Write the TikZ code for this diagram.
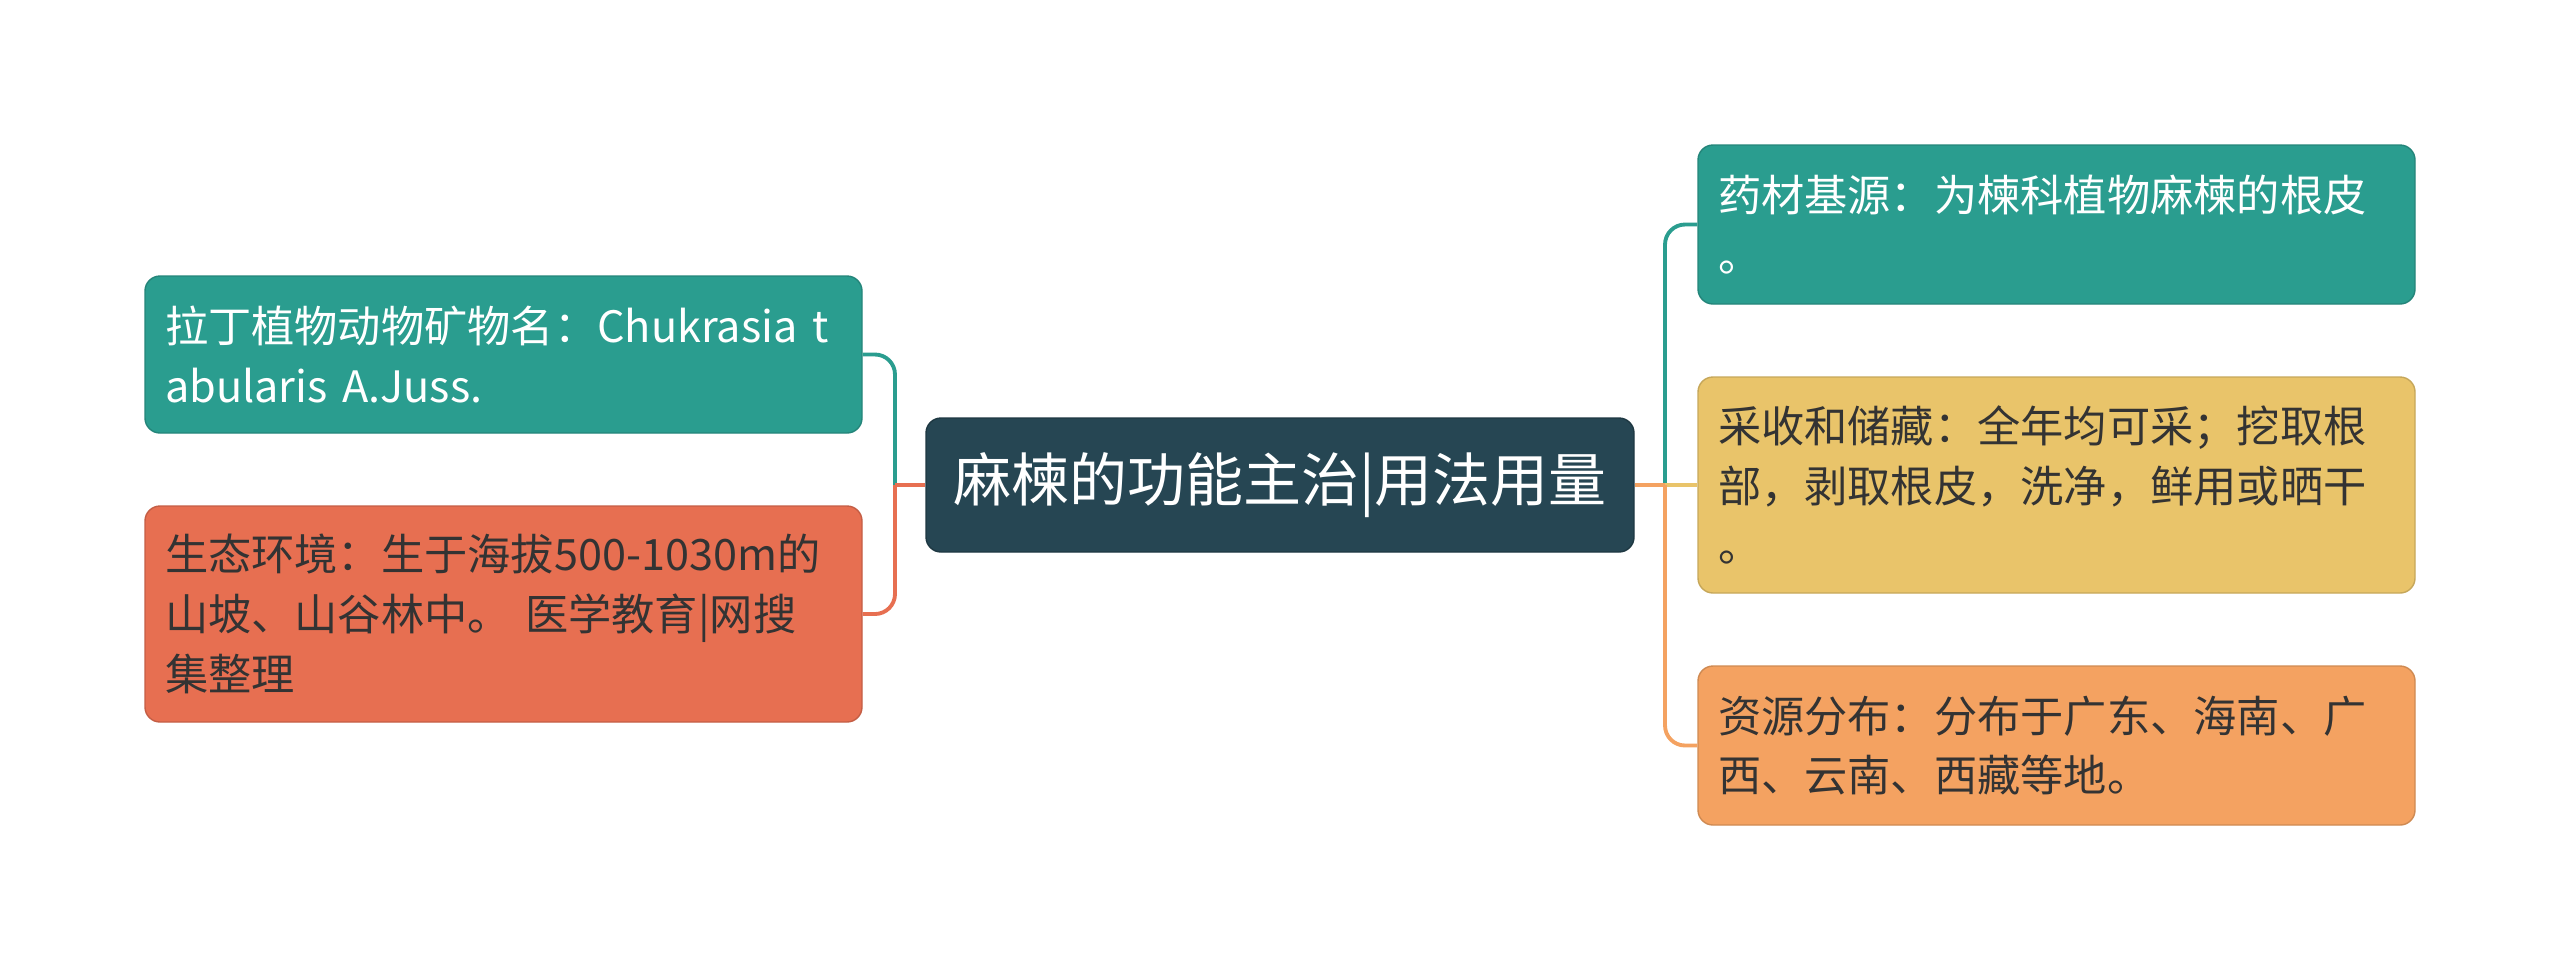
\documentclass[tikz,border=0pt]{standalone}
\usepackage{fontspec}
\newfontfamily\cjk{Noto Sans CJK SC}
\definecolor{mteal}{HTML}{2A9D8F}
\definecolor{mcoral}{HTML}{E76F51}
\definecolor{myellow}{HTML}{E9C46A}
\definecolor{morange}{HTML}{F4A261}
\definecolor{mdark}{HTML}{264653}
\definecolor{mtext}{HTML}{333333}
\begin{document}
\begin{tikzpicture}[
  leaf/.style={rounded corners=0.15cm, text width=6.77cm, inner xsep=0.2cm, inner ysep=0pt,
    align=left, minimum height=#1, font=\cjk\fontsize{12.3}{17}\selectfont},
  link/.style={line width=1.1pt}]
\useasboundingbox (0,0) rectangle (25.6,-9.69);
\node[fill=mdark, draw=mdark!80!black, line width=0.4pt, text=white, rounded corners=0.15cm,
  minimum width=7.08cm, minimum height=1.34cm, font=\cjk\fontsize{16.5}{20}\selectfont]
  (root) at (12.80,-4.85) {麻楝的功能主治|用法用量};
% left side
\node[leaf=1.57cm, fill=mteal, draw=mteal!85!black, line width=0.4pt, text=white] (l1) at (5.035,-3.545)
  {拉丁植物动物矿物名：Chukrasia t\\abularis A.Juss.};
\node[leaf=2.16cm, fill=mcoral, draw=mcoral!85!black, line width=0.4pt, text=mtext] (l2) at (5.035,-6.14)
  {生态环境：生于海拔500-1030m的\\山坡、山谷林中。 医学教育|网搜\\集整理};
% right side
\node[leaf=1.59cm, fill=mteal, draw=mteal!85!black, line width=0.4pt, text=white] (r1) at (20.565,-2.245)
  {药材基源：为楝科植物麻楝的根皮\\。};
\node[leaf=2.16cm, fill=myellow, draw=myellow!85!black, line width=0.4pt, text=mtext] (r2) at (20.565,-4.85)
  {采收和储藏：全年均可采；挖取根\\部，剥取根皮，洗净，鲜用或晒干\\。};
\node[leaf=1.59cm, fill=morange, draw=morange!85!black, line width=0.4pt, text=mtext] (r3) at (20.565,-7.455)
  {资源分布：分布于广东、海南、广\\西、云南、西藏等地。};
% connectors
\coordinate (ls) at (8.95,-4.85);
\coordinate (rs) at (16.65,-4.85);
\draw[link, mteal] (ls) [rounded corners=0.2cm] |- (l1.east);
\draw[link, mcoral] (ls) [rounded corners=0.2cm] |- (l2.east);
\draw[link, mcoral] (root.west) -- (ls);
\draw[link, mteal] (rs) [rounded corners=0.2cm] |- (r1.west);
\draw[link, myellow] (root.east) -- (r2.west);
\draw[link, morange] (rs) [rounded corners=0.2cm] |- (r3.west);
\draw[link, morange] (root.east) -- (rs);
\end{tikzpicture}
\end{document}
